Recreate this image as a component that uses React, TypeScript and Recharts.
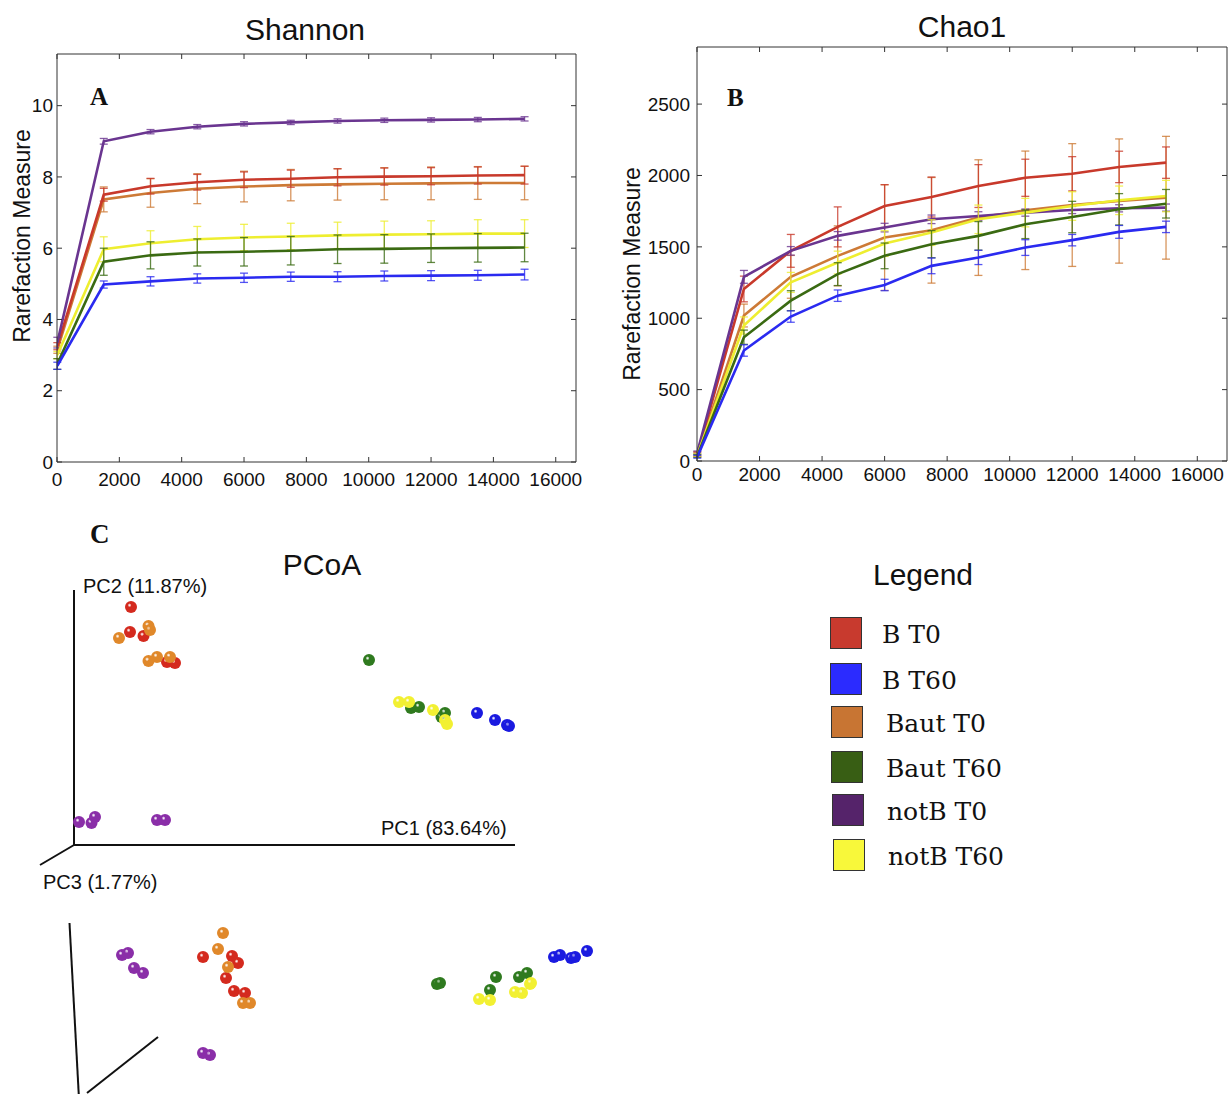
import React from 'react';
import { LineChart, Line, XAxis, YAxis, ErrorBar, ScatterChart, Scatter, ReferenceLine } from 'recharts';

// rarefaction depths (sequences per sample)
const depths = [10, 1500, 3000, 4500, 6000, 7500, 9000, 10500, 12000, 13500, 15000];
const xTicks = [0, 2000, 4000, 6000, 8000, 10000, 12000, 14000, 16000];

const groups = ['B T0', 'B T60', 'Baut T0', 'Baut T60', 'notB T0', 'notB T60'];
const lineColors = ['#c8392b', '#2a2af0', '#cd7a36', '#3a6a12', '#6a3590', '#eeee30'];
const ballColors = ['#d42a1e', '#1a1ae0', '#e0882a', '#2f7a1f', '#8a2ea8', '#f2f032'];
const legendColors = ['#c83a2e', '#2b2bff', '#c87533', '#385e14', '#55236a', '#f8f83a'];

// Shannon
const shannonBT0 = [3.25, 7.5, 7.74, 7.85, 7.92, 7.95, 7.99, 8.01, 8.02, 8.04, 8.05];
const shannonBT60 = [2.7, 4.98, 5.07, 5.15, 5.17, 5.2, 5.2, 5.22, 5.23, 5.24, 5.26];
const shannonBautT0 = [3.15, 7.37, 7.55, 7.67, 7.73, 7.77, 7.79, 7.81, 7.82, 7.83, 7.83];
const shannonBautT60 = [2.75, 5.62, 5.8, 5.88, 5.9, 5.93, 5.97, 5.98, 6.0, 6.01, 6.02];
const shannonNotBT0 = [3.35, 9.0, 9.27, 9.41, 9.49, 9.53, 9.57, 9.59, 9.6, 9.61, 9.63];
const shannonNotBT60 = [3.0, 5.97, 6.14, 6.25, 6.3, 6.33, 6.36, 6.38, 6.39, 6.41, 6.41];

const shannonErrBT0 = [0.1, 0.18, 0.22, 0.22, 0.22, 0.24, 0.24, 0.24, 0.24, 0.24, 0.25];
const shannonErrBT60 = [0.1, 0.1, 0.13, 0.13, 0.13, 0.13, 0.14, 0.14, 0.14, 0.14, 0.15];
const shannonErrBautT0 = [0.1, 0.35, 0.4, 0.42, 0.43, 0.44, 0.44, 0.45, 0.46, 0.46, 0.47];
const shannonErrBautT60 = [0.15, 0.38, 0.38, 0.38, 0.4, 0.4, 0.4, 0.4, 0.4, 0.4, 0.4];
const shannonErrNotBT0 = [0.15, 0.08, 0.06, 0.06, 0.06, 0.06, 0.06, 0.06, 0.06, 0.06, 0.06];
const shannonErrNotBT60 = [0.1, 0.35, 0.35, 0.36, 0.37, 0.37, 0.37, 0.38, 0.38, 0.39, 0.39];

// Chao1
const chaoBT0 = [50, 1205, 1472, 1640, 1786, 1849, 1926, 1984, 2012, 2060, 2090];
const chaoBT60 = [30, 774, 1012, 1158, 1233, 1367, 1426, 1495, 1547, 1605, 1640];
const chaoBautT0 = [45, 1019, 1290, 1437, 1565, 1616, 1705, 1756, 1793, 1821, 1844];
const chaoBautT60 = [35, 867, 1123, 1309, 1437, 1519, 1577, 1658, 1709, 1763, 1802];
const chaoNotBT0 = [60, 1290, 1472, 1577, 1635, 1693, 1716, 1740, 1758, 1770, 1775];
const chaoNotBT60 = [40, 949, 1251, 1390, 1523, 1600, 1693, 1740, 1786, 1826, 1856];

const chaoErrBT0 = [15, 90, 115, 140, 150, 140, 150, 130, 120, 110, 110];
const chaoErrBT60 = [10, 40, 40, 40, 40, 55, 50, 55, 40, 45, 40];
const chaoErrBautT0 = [15, 80, 150, 210, 370, 370, 405, 415, 430, 435, 430];
const chaoErrBautT60 = [10, 50, 70, 80, 90, 95, 100, 100, 110, 110, 100];
const chaoErrNotBT0 = [10, 45, 30, 30, 30, 30, 30, 25, 25, 25, 25];
const chaoErrNotBT60 = [10, 60, 70, 80, 90, 90, 100, 100, 100, 100, 110];

// PCoA, front view (PC1 vs PC2), plot units
const pcTopBT0 = [[20.2, 54.6], [20, 49.6], [22.7, 48.8], [27.4, 43.6], [29, 43.4]];
const pcTopBT60 = [[89.4, 33.4], [93, 32], [95.4, 31], [95.8, 30.8]];
const pcTopBautT0 = [[17.8, 48.4], [23.7, 50.8], [24, 50], [23.7, 43.8], [25.4, 44.6], [28, 44.6]];
const pcTopBautT60 = [[67.8, 44], [76.2, 34.4], [77.8, 34.6], [82.3, 32.6], [83, 33.4]];
const pcTopNotBT0 = [[9.8, 11.6], [12.3, 11.4], [13, 12.6], [25.4, 12], [27, 12]];
const pcTopNotBT60 = [[73.8, 35.6], [75.8, 35.6], [80.6, 34], [83.4, 31.2], [83, 32]];

// PCoA, rotated view
const pcLowBT0 = [[34.6, 27.4], [40.4, 27.6], [41.6, 26.2], [39.2, 23.2], [40.8, 20.6], [43, 20.2]];
const pcLowBT60 = [[104.8, 27.4], [106, 27.8], [108.2, 27.2], [109, 27.4], [111.4, 28.6]];
const pcLowBautT0 = [[38.6, 32.2], [37.6, 29], [39.6, 25.4], [42.6, 18.2], [44, 18.2]];
const pcLowBautT60 = [[81.4, 22], [82, 22.2], [93.2, 23.4], [92, 20.8], [97.8, 23.4], [99.4, 24.2]];
const pcLowNotBT0 = [[18.4, 27.8], [19.6, 28.2], [20.8, 25.2], [22.6, 24.2], [34.6, 8.2], [36, 7.8]];
const pcLowNotBT60 = [[89.8, 19], [92, 18.8], [97, 20.4], [98.4, 20.2], [100, 22], [100.2, 22.2]];

const shannonSeries = [shannonBT0, shannonBT60, shannonBautT0, shannonBautT60, shannonNotBT0, shannonNotBT60];
const shannonErrs = [shannonErrBT0, shannonErrBT60, shannonErrBautT0, shannonErrBautT60, shannonErrNotBT0, shannonErrNotBT60];
const chaoSeries = [chaoBT0, chaoBT60, chaoBautT0, chaoBautT60, chaoNotBT0, chaoNotBT60];
const chaoErrs = [chaoErrBT0, chaoErrBT60, chaoErrBautT0, chaoErrBautT60, chaoErrNotBT0, chaoErrNotBT60];
const pcTop = [pcTopBT0, pcTopBT60, pcTopBautT0, pcTopBautT60, pcTopNotBT0, pcTopNotBT60];
const pcLow = [pcLowBT0, pcLowBT60, pcLowBautT0, pcLowBautT60, pcLowNotBT0, pcLowNotBT60];

// draw order (back to front)
const drawOrder = [2, 0, 4, 5, 3, 1];

const buildRows = (series: number[][], errs: number[][]) =>
  depths.map((d, i) => {
    const row: Record<string, number> = { depth: d };
    series.forEach((s, k) => {
      row[`s${k}`] = s[i];
      row[`e${k}`] = errs[k][i];
    });
    return row;
  });

const shannonData = buildRows(shannonSeries, shannonErrs);
const chaoData = buildRows(chaoSeries, chaoErrs);

const AXIS = '#333';
const sans = '"Liberation Sans", Arial, Helvetica, sans-serif';

function RarefactionChart({ data, width, height, margin, yDomain, yTicks, xMax, yWidth, yTickMargin, xTickMargin }: any) {
  const tick = { fill: '#111', fontSize: 19 };
  return (
    <LineChart width={width} height={height} data={data} margin={margin}>
      <XAxis dataKey="depth" type="number" domain={[0, xMax]} ticks={xTicks} allowDataOverflow
        height={30} tickSize={-5} tickMargin={xTickMargin} tick={tick}
        axisLine={{ stroke: AXIS }} tickLine={{ stroke: AXIS }} />
      <XAxis xAxisId="top" orientation="top" dataKey="depth" type="number" domain={[0, xMax]} ticks={xTicks} allowDataOverflow
        height={1} tickSize={-5} tickFormatter={() => ''} axisLine={{ stroke: AXIS }} tickLine={{ stroke: AXIS }} />
      <YAxis type="number" domain={yDomain} ticks={yTicks} allowDataOverflow width={yWidth}
        tickSize={-5} tickMargin={yTickMargin} tick={tick}
        axisLine={{ stroke: AXIS }} tickLine={{ stroke: AXIS }} />
      <YAxis yAxisId="right" orientation="right" type="number" domain={yDomain} ticks={yTicks} allowDataOverflow
        width={1} tickSize={-5} tickFormatter={() => ''} axisLine={{ stroke: AXIS }} tickLine={{ stroke: AXIS }} />
      {/* invisible series that binds the top / right frame axes */}
      <Line xAxisId="top" yAxisId="right" dataKey="s0" stroke="none" dot={false} activeDot={false}
        isAnimationActive={false} legendType="none" />
      {drawOrder.map((k) => (
        <Line key={k} dataKey={`s${k}`} stroke={lineColors[k]} strokeWidth={2.6} dot={false}
          isAnimationActive={false} type="linear">
          <ErrorBar dataKey={`e${k}`} width={4} stroke={lineColors[k]} strokeWidth={1.3} strokeOpacity={0.8} isAnimationActive={false} />
        </Line>
      ))}
    </LineChart>
  );
}

const Ball = (k: number) => (props: any) => (
  <circle cx={props.cx} cy={props.cy} r={6} fill={`url(#ball${k})`} />
);

function PcoaView({ top, height, points, yMax, lines }: any) {
  return (
    <div style={{ position: 'absolute', left: 30, top }}>
      <ScatterChart width={600} height={height} margin={{ top: 0, right: 0, bottom: 0, left: 0 }}>
        <XAxis dataKey="x" type="number" domain={[0, 120]} hide allowDataOverflow />
        <YAxis dataKey="y" type="number" domain={[0, yMax]} hide allowDataOverflow />
        {lines.map((seg: number[][], i: number) => (
          <ReferenceLine key={i} segment={[{ x: seg[0][0], y: seg[0][1] }, { x: seg[1][0], y: seg[1][1] }]}
            stroke="#111" strokeWidth={2} ifOverflow="visible" />
        ))}
        {points.map((pts: number[][], k: number) => (
          <Scatter key={k} name={groups[k]} data={pts.map(([x, y]) => ({ x, y }))}
            shape={Ball(k)} isAnimationActive={false} />
        ))}
      </ScatterChart>
    </div>
  );
}

const txt = (style: React.CSSProperties, children: React.ReactNode) => (
  <div style={{ position: 'absolute', whiteSpace: 'nowrap', lineHeight: 1, ...style }}>{children}</div>
);

export default function App() {
  return (
    <div style={{ position: 'absolute', left: 0, top: 0, width: 1229, height: 1094, background: '#fff', fontFamily: sans, color: '#111', overflow: 'hidden' }}>
      <svg width={0} height={0} style={{ position: 'absolute' }}>
        <defs>
          {ballColors.map((c, k) => (
            <radialGradient key={k} id={`ball${k}`} cx="38%" cy="35%" r="65%">
              <stop offset="0%" stopColor="#fff" stopOpacity={0.55} />
              <stop offset="25%" stopColor={c} />
              <stop offset="100%" stopColor={c} stopOpacity={1} />
            </radialGradient>
          ))}
        </defs>
      </svg>

      {/* A: Shannon */}
      <div style={{ position: 'absolute', left: 0, top: 0 }}>
        <RarefactionChart data={shannonData} width={600} height={500}
          margin={{ top: 53, right: 23, bottom: 8, left: 17 }} yWidth={40}
          yDomain={[0, 11.45]} yTicks={[0, 2, 4, 6, 8, 10]} xMax={16650}
          yTickMargin={9} xTickMargin={16} />
      </div>
      {txt({ left: 305, top: 30, transform: 'translate(-50%,-50%)', fontSize: 30 }, 'Shannon')}
      {txt({ left: 22, top: 236, transform: 'translate(-50%,-50%) rotate(-90deg)', fontSize: 23 }, 'Rarefaction Measure')}
      {txt({ left: 90, top: 84, fontSize: 25, fontWeight: 'bold', fontFamily: '"Liberation Serif", serif' }, 'A')}

      {/* B: Chao1 */}
      <div style={{ position: 'absolute', left: 610, top: 0 }}>
        <RarefactionChart data={chaoData} width={619} height={500}
          margin={{ top: 46, right: 1, bottom: 9, left: 37 }} yWidth={50}
          yDomain={[0, 2900]} yTicks={[0, 500, 1000, 1500, 2000, 2500]} xMax={16950}
          yTickMargin={12} xTickMargin={12} />
      </div>
      {txt({ left: 962, top: 27, transform: 'translate(-50%,-50%)', fontSize: 30 }, 'Chao1')}
      {txt({ left: 632, top: 274, transform: 'translate(-50%,-50%) rotate(-90deg)', fontSize: 23 }, 'Rarefaction Measure')}
      {txt({ left: 727, top: 85, fontSize: 25, fontWeight: 'bold', fontFamily: '"Liberation Serif", serif' }, 'B')}

      {/* C: PCoA */}
      {txt({ left: 90, top: 521, fontSize: 27, fontWeight: 'bold', fontFamily: '"Liberation Serif", serif' }, 'C')}
      {txt({ left: 322, top: 565, transform: 'translate(-50%,-50%)', fontSize: 30 }, 'PCoA')}
      <PcoaView top={580} height={300} yMax={60} points={pcTop}
        lines={[[[8.8, 58], [8.8, 7]], [[8.8, 7], [97, 7]], [[8.8, 7], [2, 3]]]} />
      <PcoaView top={894} height={200} yMax={40} points={pcLow}
        lines={[[[7.9, 34.2], [9.8, -1]], [[11.4, 0.2], [25.6, 11.4]]]} />
      {txt({ left: 83, top: 576, fontSize: 20 }, 'PC2 (11.87%)')}
      {txt({ left: 381, top: 818, fontSize: 20 }, 'PC1 (83.64%)')}
      {txt({ left: 43, top: 872, fontSize: 20 }, 'PC3 (1.77%)')}

      {/* Legend */}
      {txt({ left: 923, top: 575, transform: 'translate(-50%,-50%)', fontSize: 30 }, 'Legend')}
      {groups.map((g, k) => {
        const top = [617, 663, 706, 751, 794, 839][k];
        const left = [830, 830, 831, 831, 832, 833][k];
        const textLeft = [882, 882, 886, 886, 887, 888][k];
        return (
          <React.Fragment key={g}>
            <div style={{ position: 'absolute', left, top, width: 30, height: 30, background: legendColors[k], border: '1.5px solid #333' }} />
            {txt({ left: textLeft, top: top + 17, transform: 'translateY(-50%)', fontSize: 25, fontFamily: '"DejaVu Serif", serif' }, g)}
          </React.Fragment>
        );
      })}
    </div>
  );
}
